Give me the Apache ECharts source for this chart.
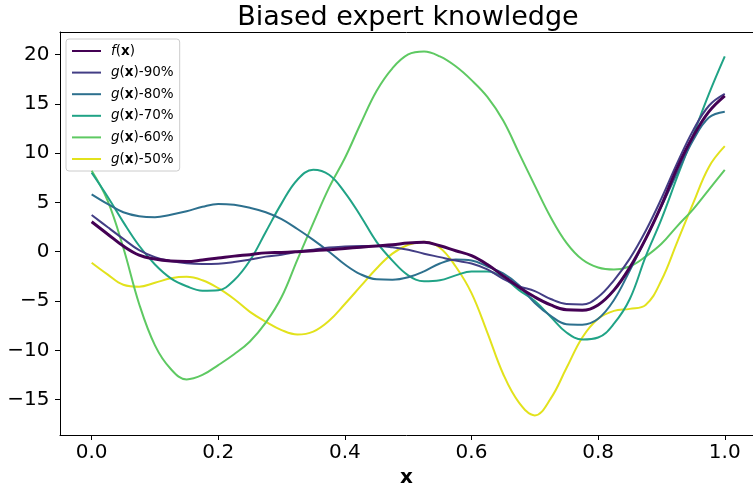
<!DOCTYPE html>
<html>
<head>
<meta charset="utf-8">
<script src="https://cdn.jsdelivr.net/npm/echarts@6/dist/echarts.min.js"></script>
<style>
  html, body { margin: 0; padding: 0; background: #ffffff; }
  #chart { width: 753px; height: 488px; }
</style>
</head>
<body>
<div id="chart"></div>
<script>
// Sample positions along x (step 0.025)
const xs = [0, 0.025, 0.05, 0.075, 0.1, 0.125, 0.15, 0.175, 0.2, 0.225,
  0.25, 0.275, 0.3, 0.325, 0.35, 0.375, 0.4, 0.425, 0.45, 0.475,
  0.5, 0.525, 0.55, 0.575, 0.6, 0.625, 0.65, 0.675, 0.7, 0.725,
  0.75, 0.775, 0.8, 0.825, 0.85, 0.875, 0.9, 0.925, 0.95, 0.975, 1.0];

// True function f(x)
const fTrue = [3.04, 1.8, 0.57, -0.35, -0.75, -0.95, -1.0, -0.84, -0.65, -0.45,
  -0.3, -0.12, -0.08, 0.0, 0.1, 0.2, 0.33, 0.45, 0.58, 0.7,
  0.88, 0.95, 0.6, 0.1, -0.4, -1.3, -2.45, -3.6, -4.6, -5.4,
  -5.9, -5.95, -5.4, -3.9, -1.6, 1.3, 4.7, 8.5, 11.7, 14.2, 15.8];

// Biased expert guesses g(x) at decreasing accuracy
const g90 = [3.72, 2.5, 1.3, 0.15, -0.55, -0.95, -1.18, -1.25, -1.22, -1.05,
  -0.8, -0.5, -0.3, 0.0, 0.2, 0.42, 0.52, 0.57, 0.58, 0.45,
  0.2, -0.2, -0.55, -0.9, -1.2, -1.8, -2.75, -3.5, -4.0, -4.8,
  -5.3, -5.35, -4.6, -2.9, -0.7, 2.1, 5.4, 9.0, 12.3, 14.8, 16.0];

const g80 = [5.82, 4.85, 4.0, 3.6, 3.5, 3.75, 4.1, 4.55, 4.84, 4.75,
  4.45, 4.0, 3.3, 2.3, 1.2, 0.0, -1.3, -2.3, -2.8, -2.85,
  -2.6, -2.0, -1.2, -0.8, -0.9, -1.5, -2.2, -3.4, -5.2, -6.5,
  -7.35, -7.4, -6.8, -4.9, -1.9, 1.3, 4.6, 8.0, 11.3, 13.6, 14.2];

const g70 = [8.0, 5.6, 3.0, 0.6, -1.3, -2.7, -3.5, -3.95, -3.9, -2.9,
  -0.9, 2.0, 4.9, 7.3, 8.3, 7.8, 6.0, 3.6, 1.0, -0.9,
  -2.4, -3.0, -2.9, -2.4, -2.0, -2.0, -2.6, -3.9, -5.0, -6.6,
  -8.2, -8.9, -8.7, -7.3, -4.8, -0.5, 3.3, 7.6, 11.8, 16.0, 19.8];

const g60 = [8.2, 5.2, 0.4, -5.3, -9.5, -11.9, -12.95, -12.5, -11.5, -10.4,
  -9.1, -7.2, -4.6, -0.8, 2.9, 6.5, 9.5, 13.0, 16.3, 18.6,
  20.0, 20.3, 19.8, 18.8, 17.4, 15.7, 13.3, 10.0, 6.7, 3.5,
  0.9, -0.8, -1.6, -1.8, -1.5, -0.5, 0.8, 2.6, 4.3, 6.3, 8.3];

const g50 = [-1.12, -2.3, -3.35, -3.55, -3.15, -2.7, -2.55, -2.9, -3.7, -4.8,
  -6.1, -7.1, -7.95, -8.4, -8.1, -7.0, -5.3, -3.5, -1.7, -0.2,
  0.7, 1.0, 0.4, -1.5, -4.2, -8.2, -12.4, -15.3, -16.6, -14.9,
  -11.8, -8.7, -6.8, -6.0, -5.8, -5.4, -2.9, 1.0, 4.9, 8.6, 10.7];

const seriesNames = ['f(x)', 'g(x)-90%', 'g(x)-80%', 'g(x)-70%', 'g(x)-60%', 'g(x)-50%'];
const seriesValues = [fTrue, g90, g80, g70, g60, g50];
const seriesColors = ['#440154', '#433e85', '#2d708e', '#20a386', '#5ec962', '#e2e21c'];
const seriesWidths = [3, 2, 2, 2, 2, 2];

const xTicks = [0, 0.2, 0.4, 0.6, 0.8, 1.0];
const yTicks = [-15, -10, -5, 0, 5, 10, 15, 20];

const FONT = 'DejaVu Sans';

const chart = echarts.init(document.getElementById('chart'), null, { renderer: 'canvas' });

const series = seriesNames.map((name, i) => ({
  name: name,
  type: 'line',
  data: xs.map((x, j) => [x, seriesValues[i][j]]),
  smooth: 0.4,
  symbol: 'none',
  z: 10 - i,
  lineStyle: { color: seriesColors[i], width: seriesWidths[i] },
  itemStyle: { color: seriesColors[i] },
  emphasis: { disabled: true }
}));

// Legend entries: italic function letter, bold x, plain rest
const legendLabel = (name) => {
  const fn = name.charAt(0);
  return '{it|' + fn + '}{rg|(}{bd|x}{rg|)' + name.slice(4) + '}';
};

const txt = { fontFamily: FONT, fontSize: 13.5, color: '#000' };

chart.setOption({
  animation: false,
  backgroundColor: '#ffffff',
  title: {
    text: 'Biased expert knowledge',
    left: 403,
    top: -1,
    textAlign: 'center',
    textStyle: { fontFamily: FONT, fontSize: 27, fontWeight: 'normal', color: '#000' }
  },
  grid: {
    left: 60, right: 0, top: 32, bottom: 53,
    outerBoundsMode: 'none'
  },
  legend: {
    orient: 'vertical',
    left: 66,
    top: 39,
    padding: [5, 6, 5, 5],
    itemWidth: 29,
    itemHeight: 12,
    itemGap: 7.6,
    backgroundColor: 'rgba(255,255,255,0.8)',
    borderColor: '#cccccc',
    borderWidth: 1,
    borderRadius: 3,
    data: seriesNames,
    formatter: legendLabel,
    itemStyle: { color: 'rgba(0,0,0,0)', borderWidth: 0, opacity: 0 },
    textStyle: {
      fontFamily: FONT, fontSize: 13.5, color: '#000', padding: [0, 0, 0, 5],
      rich: {
        it: Object.assign({}, txt, { fontStyle: 'italic' }),
        bd: Object.assign({}, txt, { fontWeight: 'bold' }),
        rg: Object.assign({}, txt)
      }
    },
    selectedMode: false
  },
  xAxis: [{
    type: 'value',
    min: -0.05,
    max: 1.0446,
    name: 'x',
    nameLocation: 'middle',
    nameGap: 30,
    nameTextStyle: { fontFamily: FONT, fontSize: 20, fontWeight: 'bold', color: '#000' },
    axisLine: { show: true, onZero: false, lineStyle: { color: '#000', width: 1 } },
    axisTick: { show: true, length: 5, customValues: xTicks, lineStyle: { color: '#000', width: 1 } },
    axisLabel: {
      show: true, margin: 8, customValues: xTicks,
      fontFamily: FONT, fontSize: 20, color: '#000',
      formatter: (v) => v.toFixed(1)
    },
    splitLine: { show: false }
  }, {
    // top spine of the frame
    type: 'value',
    position: 'top',
    min: -0.05,
    max: 1.0446,
    axisLine: { show: true, onZero: false, lineStyle: { color: '#000', width: 1 } },
    axisTick: { show: false },
    axisLabel: { show: false },
    splitLine: { show: false }
  }],
  yAxis: {
    type: 'value',
    min: -18.59,
    max: 22.28,
    axisLine: { show: true, onZero: false, lineStyle: { color: '#000', width: 1 } },
    axisTick: { show: true, length: 5, customValues: yTicks, lineStyle: { color: '#000', width: 1 } },
    axisLabel: {
      show: true, margin: 10.5, customValues: yTicks,
      fontFamily: FONT, fontSize: 20, color: '#000',
      formatter: (v) => (v < 0 ? '\u2212' + Math.abs(v) : String(v))
    },
    splitLine: { show: false }
  },
  series: series
});
</script>
</body>
</html>
